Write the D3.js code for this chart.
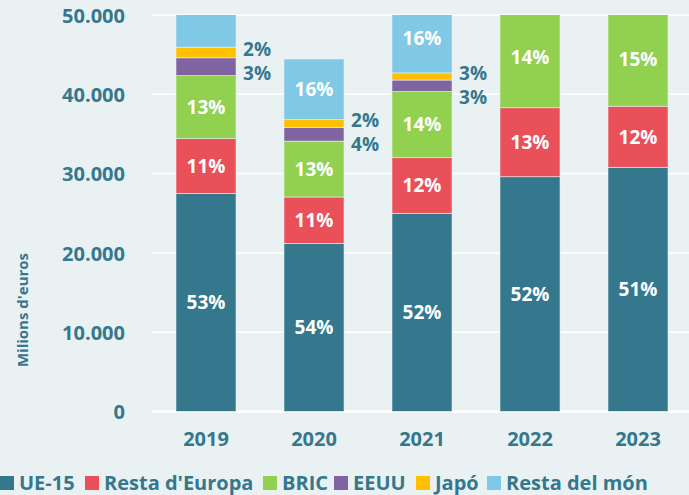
<!DOCTYPE html>
<html>
<head>
<meta charset="UTF-8">
<script src="https://d3js.org/d3.v7.min.js"></script>
<style>
  body { margin: 0; padding: 0; background: #e9f1f3; }
  svg { display: block; font-family: "Open Sans", sans-serif; font-weight: bold; }
</style>
</head>
<body>
<script>
  const width = 689, height = 495;

  const years = ["2019", "2020", "2021", "2022", "2023"];
  const series = ["UE-15", "Resta d'Europa", "BRIC", "EEUU", "Japó", "Resta del món"];
  const colors = ["#35788e", "#e9505a", "#92d050", "#8064a2", "#ffc000", "#7fc9e6"];

  // milions d'euros per zona (estimats del gràfic)
  const ue15      = [27500, 21200, 25000, 29600, 30800];
  const restaEur  = [6900, 5850, 7000, 8700, 7700];
  const bric      = [7950, 7050, 8350, 12850, 11850];
  const eeuu      = [2250, 1700, 1450, 1700, 1900];
  const japo      = [1350, 1000, 900, 800, 800];
  const restaMon  = [6100, 7650, 8750, 8400, 9100];

  // etiquetes de percentatge (les que apareixen al gràfic)
  const pctUe15     = ["53%", "54%", "52%", "52%", "51%"];
  const pctRestaEur = ["11%", "11%", "12%", "13%", "12%"];
  const pctBric     = ["13%", "13%", "14%", "14%", "15%"];
  const pctEeuu     = ["3%", "4%", "3%", "", ""];
  const pctJapo     = ["2%", "2%", "3%", "", ""];
  const pctRestaMon = ["", "16%", "16%", "", ""];

  const yTicks = [0, 10000, 20000, 30000, 40000, 50000];

  const values = [ue15, restaEur, bric, eeuu, japo, restaMon];
  const labels = [pctUe15, pctRestaEur, pctBric, pctEeuu, pctJapo, pctRestaMon];

  const rows = years.map((y, i) => {
    const r = { year: y };
    series.forEach((s, k) => r[s] = values[k][i]);
    return r;
  });

  const margin = { top: 15, right: -3, bottom: 83.5, left: 152 };
  const innerW = width - margin.left - margin.right;
  const innerH = height - margin.top - margin.bottom;

  const svg = d3.select("body").append("svg")
    .attr("width", width).attr("height", height);

  svg.append("rect").attr("width", width).attr("height", height).attr("fill", "#e9f1f3");

  const g = svg.append("g").attr("transform", `translate(${margin.left},${margin.top})`);

  const x = d3.scaleBand().domain(years).range([0, innerW]).paddingInner(0.444).paddingOuter(0.222);
  const y = d3.scaleLinear().domain([0, 50000]).range([innerH, 0]);

  const fmt = v => v === 0 ? "0" : d3.format(",")(v).replace(/,/g, ".");

  // graella
  g.selectAll(".grid").data(yTicks).enter().append("line")
    .attr("x1", 0).attr("x2", innerW + 10)
    .attr("y1", d => y(d)).attr("y2", d => y(d))
    .attr("stroke", "#ffffff").attr("stroke-width", d => d === 0 ? 2.5 : 1.5);

  // eix Y
  const yAxis = g.append("g").attr("transform", "translate(-24,0)")
    .call(d3.axisLeft(y).tickValues(yTicks).tickFormat(fmt).tickSize(0));
  yAxis.select(".domain").remove();
  yAxis.selectAll("text").attr("fill", "#35788e").attr("font-size", 20)
    .attr("font-family", "Open Sans, sans-serif").attr("font-weight", "bold").attr("dy", "0.36em");

  // eix X
  const xAxis = g.append("g").attr("transform", `translate(0,${innerH + 27})`)
    .call(d3.axisBottom(x).tickSize(0));
  xAxis.select(".domain").remove();
  xAxis.selectAll("text").attr("fill", "#35788e").attr("font-size", 20)
    .attr("font-family", "Open Sans, sans-serif").attr("font-weight", "bold").attr("dy", "0.36em").attr("y", 0);

  const stacked = d3.stack().keys(series)(rows);

  svg.append("defs").append("clipPath").attr("id", "plotclip")
    .append("rect").attr("x", -10).attr("y", 0).attr("width", innerW + 20).attr("height", innerH);

  const bars = g.append("g").attr("clip-path", "url(#plotclip)");

  stacked.forEach((layer, k) => {
    bars.selectAll(null).data(layer).enter().append("rect")
      .attr("x", d => x(d.data.year))
      .attr("width", x.bandwidth())
      .attr("y", d => y(d[1]))
      .attr("height", d => y(d[0]) - y(d[1]))
      .attr("fill", colors[k])
      .attr("stroke", "#e9f1f3").attr("stroke-width", 0.6);
  });

  // etiquetes dins de les barres (UE-15, Resta d'Europa, BRIC, Resta del món)
  [0, 1, 2, 5].forEach(k => {
    stacked[k].forEach((d, i) => {
      const txt = labels[k][i];
      if (!txt) return;
      g.append("text")
        .attr("x", x(d.data.year) + x.bandwidth() / 2)
        .attr("y", (y(d[1]) + y(d[0])) / 2)
        .attr("text-anchor", "middle").attr("dy", "0.36em")
        .attr("fill", "#ffffff").attr("font-size", 19)
        .text(txt);
    });
  });

  // etiquetes exteriors (EEUU i Japó)
  years.forEach((yr, i) => {
    if (!pctJapo[i]) return;
    const j = stacked[4][i];
    const jy = (y(j[0]) + y(j[1])) / 2 - 3;
    const ey = jy + 24;
    const lx = x(yr) + x.bandwidth() + 7;
    g.append("text").attr("x", lx).attr("y", jy).attr("dy", "0.36em")
      .attr("fill", "#35788e").attr("font-size", 19).text(pctJapo[i]);
    g.append("text").attr("x", lx).attr("y", ey).attr("dy", "0.36em")
      .attr("fill", "#35788e").attr("font-size", 19).text(pctEeuu[i]);
  });

  // títol de l'eix Y
  svg.append("text")
    .attr("transform", "translate(23,310) rotate(-90)")
    .attr("text-anchor", "middle").attr("dy", "0.36em")
    .attr("fill", "#35788e").attr("font-size", 15).text("Milions d'euros");

  // llegenda
  const legX = [0, 85, 263, 334, 416, 487];
  const legend = svg.append("g").attr("transform", "translate(0,483)");
  series.forEach((s, k) => {
    legend.append("rect").attr("x", legX[k]).attr("y", -7).attr("width", 14).attr("height", 14)
      .attr("fill", colors[k]);
    legend.append("text").attr("x", legX[k] + 19).attr("y", 0).attr("dy", "0.36em")
      .attr("fill", "#35788e").attr("font-size", 20).text(s);
  });
</script>
</body>
</html>
